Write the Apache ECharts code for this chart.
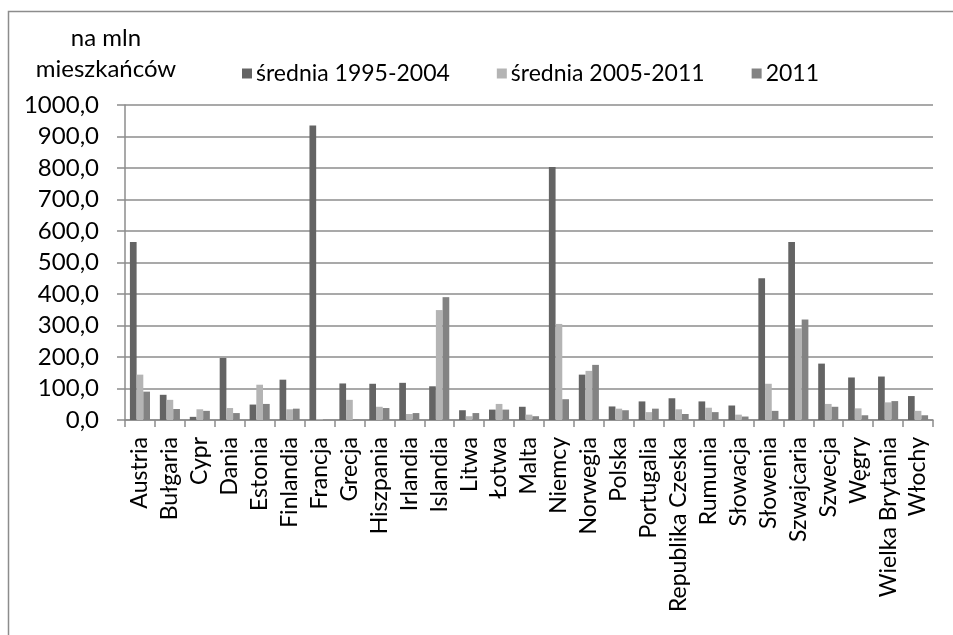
<!DOCTYPE html>
<html>
<head>
<meta charset="utf-8">
<script src="https://cdn.jsdelivr.net/npm/echarts@6/dist/echarts.min.js"></script>
<style>
  html, body { margin: 0; padding: 0; background: #fff; }
  #chart { width: 953px; height: 635px; }
</style>
</head>
<body>
<div id="chart"></div>
<script>
const countries = ['Austria', 'Bułgaria', 'Cypr', 'Dania', 'Estonia', 'Finlandia', 'Francja', 'Grecja', 'Hiszpania', 'Irlandia', 'Islandia', 'Litwa', 'Łotwa', 'Malta', 'Niemcy', 'Norwegia', 'Polska', 'Portugalia', 'Republika Czeska', 'Rumunia', 'Słowacja', 'Słowenia', 'Szwajcaria', 'Szwecja', 'Węgry', 'Wielka Brytania', 'Włochy']
const seriesNames = ['średnia 1995-2004', 'średnia 2005-2011', '2011']
const avg1995 = [565, 80, 10, 197, 49, 128, 935, 116, 115, 118, 107, 31, 33, 42, 803, 144, 43, 59, 69, 59, 46, 450, 565, 179, 135, 138, 76]
const avg2005 = [144, 64, 34, 38, 112, 34, 3, 64, 42, 19, 349, 12, 51, 17, 305, 156, 36, 25, 34, 39, 17, 115, 291, 51, 37, 56, 29]
const val2011 = [90, 35, 29, 22, 51, 36, 0, 1, 38, 22, 390, 22, 33, 12, 66, 175, 31, 36, 19, 25, 11, 29, 319, 42, 15, 60, 15]
const colors = ['#646464', '#b4b4b4', '#838383']

const font = 'Lato'
const myChart = echarts.init(document.getElementById('chart'))

const option = {
  animation: false,
  textStyle: { fontFamily: font },
  color: colors,
  graphic: [
    {
      type: 'rect',
      shape: { x: 8.5, y: 11.5, width: 1000, height: 700 },
      style: { fill: 'none', stroke: '#8c8c8c', lineWidth: 1.5 }
    },
    {
      type: 'text',
      x: 106, y: 23,
      style: {
        text: 'na mln\nmieszkańców', fontSize: 24, fontFamily: font, fill: '#000',
        align: 'center', verticalAlign: 'top', lineHeight: 31
      }
    }
  ],
  legend: {
    left: 242,
    top: 62,
    padding: 0,
    itemWidth: 10,
    itemHeight: 10,
    itemGap: 47,
    icon: 'rect',
    textStyle: { fontSize: 23, color: '#000', fontFamily: font, padding: [0, 0, 0, -1] },
    data: seriesNames
  },
  grid: { left: 125, top: 105, right: 20, bottom: 215, containLabel: false },
  xAxis: {
    type: 'category',
    data: countries,
    axisLine: { lineStyle: { color: '#8c8c8c', width: 1.5 } },
    axisTick: { show: true, length: 7, lineStyle: { color: '#8c8c8c', width: 1.5 } },
    axisLabel: { rotate: 90, margin: 17, fontSize: 23, color: '#000', interval: 0, fontFamily: font }
  },
  yAxis: {
    type: 'value',
    min: 0,
    max: 1000,
    interval: 100,
    axisLine: { show: true, lineStyle: { color: '#8c8c8c', width: 1.5 } },
    axisTick: { show: true, inside: false, length: 8, lineStyle: { color: '#8c8c8c', width: 1.5 } },
    splitLine: { lineStyle: { color: '#8c8c8c', width: 1.5 } },
    axisLabel: {
      margin: 26, fontSize: 24, color: '#000', fontFamily: font,
      formatter: v => v.toFixed(1).replace('.', ',')
    }
  },
  series: [
    { name: seriesNames[0], type: 'bar', data: avg1995, barWidth: 6.7, barGap: '0%' },
    { name: seriesNames[1], type: 'bar', data: avg2005, barWidth: 6.7, barGap: '0%' },
    { name: seriesNames[2], type: 'bar', data: val2011, barWidth: 6.7, barGap: '0%' }
  ]
}

option && myChart.setOption(option)
</script>
</body>
</html>
